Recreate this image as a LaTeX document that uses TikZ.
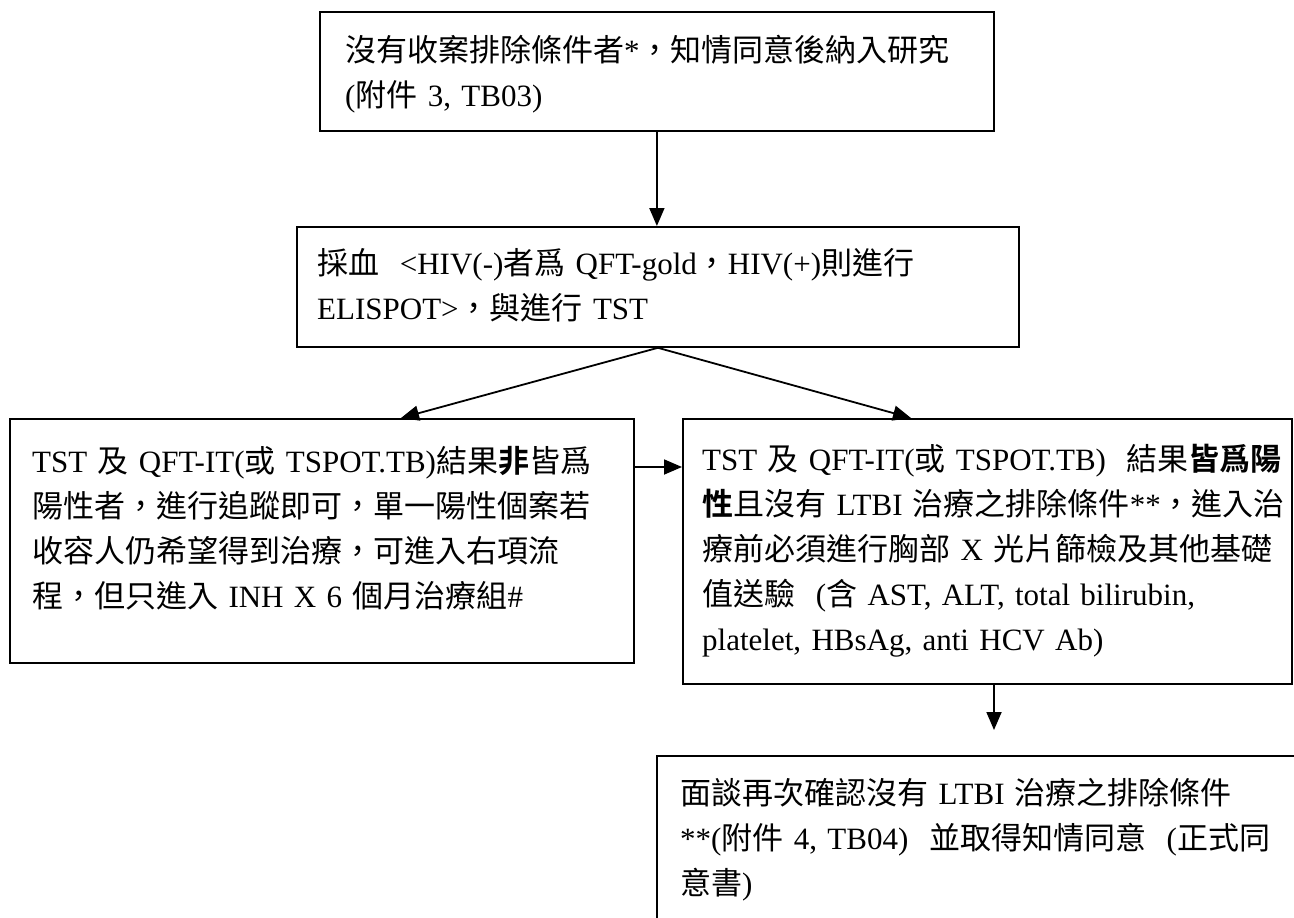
\documentclass[tikz,border=0pt]{standalone}
\usepackage{fontspec}
\setmainfont{Liberation Serif}
\newfontfamily\cj{Noto Sans CJK TC}[BoldFont={Noto Sans CJK TC Bold}]
\newcommand\zh[1]{{\cj #1}}
\usetikzlibrary{arrows.meta}
\begin{document}
\begin{tikzpicture}[x=1pt,y=-1pt,
  box/.style={draw=black, line width=1.8pt, inner sep=0pt, anchor=north west, fill=none},
  txt/.style={inner sep=0pt, anchor=base west, align=left, font=\fontsize{31}{45}\selectfont},
  arr/.style={draw=black, line width=1.8pt, -{Triangle[length=18pt,width=15pt]}}]
\useasboundingbox[fill=white] (0,0) rectangle (1294,918);
% boxes
\node[box, minimum width=674, minimum height=119] (b1) at (319,11) {};
\node[box, minimum width=722, minimum height=120] (b2) at (296,226) {};
\node[box, minimum width=624, minimum height=244] (b3) at (9,418) {};
\node[box, minimum width=609, minimum height=265] (b4) at (682,418) {};
\node[box, minimum width=654, minimum height=185] (b5) at (656,755) {};
% texts
\node[txt, text width=640] (t1) at (345,61) {\zh{沒有收案排除條件者}*\zh{，知情同意後納入研究}\\(\zh{附件} 3, TB03)};
\node[txt, text width=695] (t2) at (317,274) {\zh{採血}\ \ <HIV(-)\zh{者爲} QFT-gold\zh{，}HIV(+)\zh{則進行}\\ELISPOT>\zh{，與進行} TST};
\node[txt, text width=598] (t3) at (32,472) {TST \zh{及} QFT-IT(\zh{或} TSPOT.TB)\zh{結果}\textbf{\zh{非}}\zh{皆爲}\\\zh{陽性者，進行追蹤即可，單一陽性個案若}\\\zh{收容人仍希望得到治療，可進入右項流}\\\zh{程，但只進入} INH X 6 \zh{個月治療組}\#};
\node[txt, text width=610] (t4) at (702,470) {TST \zh{及} QFT-IT(\zh{或} TSPOT.TB)\ \ \zh{結果}\textbf{\zh{皆爲陽}}\\\textbf{\zh{性}}\zh{且沒有} LTBI \zh{治療之排除條件}**\zh{，進入治}\\\zh{療前必須進行胸部} X \zh{光片篩檢及其他基礎}\\\zh{值送驗}\ \ (\zh{含} AST, ALT, total bilirubin,\\platelet, HBsAg, anti HCV Ab)};
\node[txt, text width=610] (t5) at (680,804) {\zh{面談再次確認沒有} LTBI \zh{治療之排除條件}\\{}**(\zh{附件} 4, TB04)\ \ \zh{並取得知情同意}\ \ (\zh{正式同}\\\zh{意書})};
% connector end points
\coordinate (in3) at (401,418);
\coordinate (in4) at (911,418);
\coordinate (o3) at (633,467);
\coordinate (o4) at (994,683);
\coordinate (e5) at (994,730);
% connectors
\draw[arr] (b1.south) -- (b1.south |- b2.north);
\draw[arr] (b2.south) -- (in3);
\draw[arr] (b2.south) -- (in4);
\draw[arr] (o3) -- (o3 -| b4.west);
\draw[arr] (o4) -- (e5);
\end{tikzpicture}
\end{document}
